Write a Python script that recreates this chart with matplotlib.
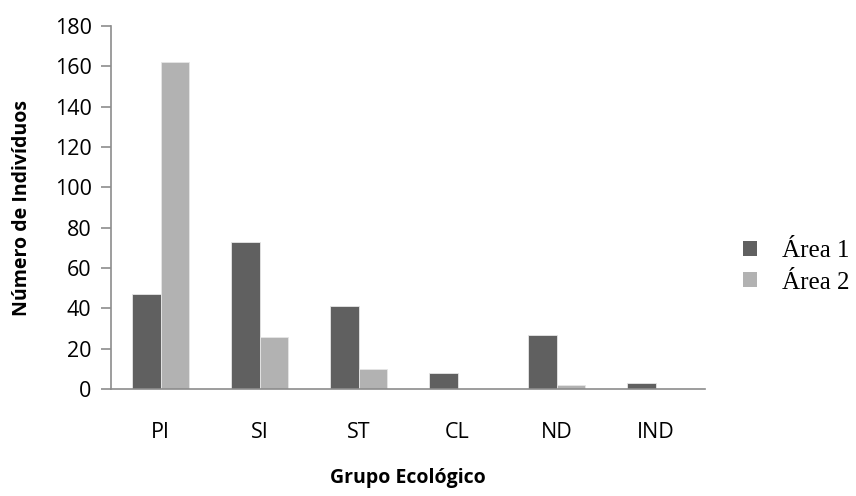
import numpy as np
import matplotlib
matplotlib.use('Agg')
from matplotlib import pyplot as plt
from matplotlib.patches import Patch

grupos = ['PI', 'SI', 'ST', 'CL', 'ND', 'IND']
area1 = [47, 73, 41, 8, 27, 3]
area2 = [162, 26, 10, 0, 2, 0]
series = ['Área 1', 'Área 2']
cores = ['#606060', '#b2b2b2']
yticks = [0, 20, 40, 60, 80, 100, 120, 140, 160, 180]

plt.rcParams['font.family'] = ['Open Sans', 'DejaVu Sans']

fig = plt.figure(figsize=(8.56, 4.96), dpi=100)
ax = fig.add_axes([0.1297, 0.2157, 0.6939, 0.7319])

x = np.arange(len(grupos))
w = 0.285
ax.bar(x - w/2, area1, w, color=cores[0], edgecolor='#e6e6e6', linewidth=0.6)
ax.bar(x + w/2, area2, w, color=cores[1], edgecolor='#e6e6e6', linewidth=0.6)

ax.set_xlim(-0.5, len(grupos) - 0.5)
ax.set_ylim(0, 180)
ax.set_yticks(yticks)
ax.set_xticks(x)
ax.set_xticklabels(grupos)

for s in ['top', 'right']:
    ax.spines[s].set_visible(False)
for s in ['left', 'bottom']:
    ax.spines[s].set_color('#8c8c8c')
    ax.spines[s].set_linewidth(1.2)

ax.tick_params(axis='y', direction='out', length=7, width=1.2, color='#8c8c8c',
               labelsize=15.5, pad=7)
ax.tick_params(axis='x', length=0, labelsize=15.5, pad=24)

ax.set_ylabel('Número de Indivíduos', fontsize=14, fontweight='bold', labelpad=16)
ax.set_xlabel('Grupo Ecológico', fontsize=14, fontweight='bold', labelpad=18)

handles = [Patch(facecolor=c, edgecolor='none') for c in cores]
leg = fig.legend(handles, series, loc='center left', bbox_to_anchor=(0.868, 0.462),
                 frameon=False, borderpad=0, borderaxespad=0,
                 handlelength=0.56, handleheight=0.56,
                 handletextpad=1.0, labelspacing=0.38,
                 prop={'family': 'Liberation Serif', 'size': 18})

fig.savefig('out.png', dpi=100)
